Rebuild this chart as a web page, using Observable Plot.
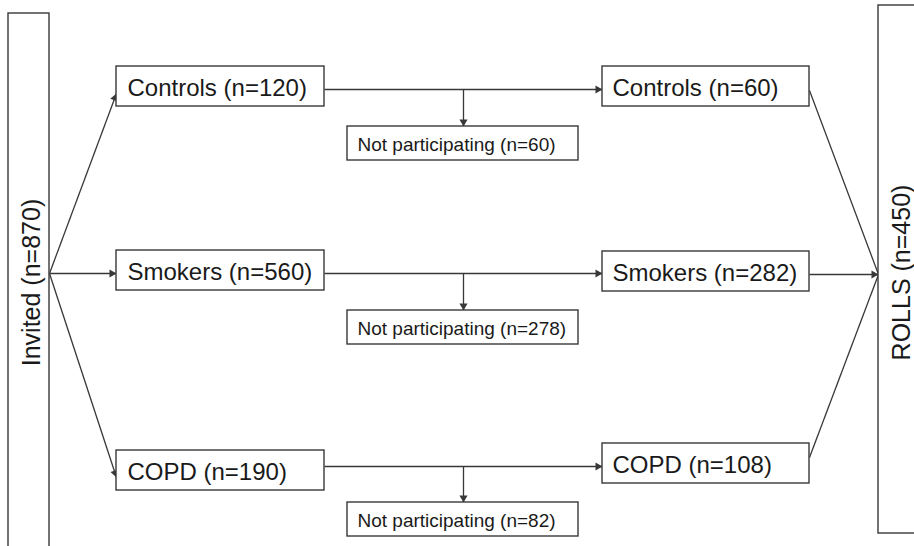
<!DOCTYPE html>
<html><head><meta charset="utf-8">
<script src="https://cdn.jsdelivr.net/npm/d3@7"></script>
<script src="https://cdn.jsdelivr.net/npm/@observablehq/plot@0.6"></script>
<style>body{margin:0;background:#fff;}#chart svg{display:block;}</style>
</head><body><div id="chart"></div>
<script>
// ---- data ----
const groups = ["Controls", "Smokers", "COPD"];
const invitedCounts = [120, 560, 190];
const participantCounts = [60, 282, 108];
const notParticipatingCounts = [60, 278, 82];
const invitedTotal = 870;
const rollsTotal = 450;

// ---- layout (pixel space) ----
const W = 914, H = 546;
const L = {
  invited: {x1: 8, x2: 49, y1: 13, y2: 600, cx: 31, cy: 282, hub: [49, 273]},
  rolls: {x1: 878, x2: 960, y1: 5, y2: 533, cx: 901, cy: 272, hub: [878, 274]},
  left: {x1: 116, x2: 324, y1: [66, 250, 450], h: 40, tipY: [93, 273, 477]},
  right: {x1: 602, x2: 809, y1: [66, 251, 443], h: 40, outY: [90, 274, 457]},
  flowY: [89, 273, 466],
  np: {x1: 347, x2: 578, y1: [126, 310, 502], h: 34, branchX: 463}
};
const INK = "#383838", TEXT = "#1a1a1a", FONT = "Liberation Sans, Arial, sans-serif";

// ---- boxes ----
const boxes = [
  {x1: L.invited.x1, x2: L.invited.x2, y1: L.invited.y1, y2: L.invited.y2},
  {x1: L.rolls.x1, x2: L.rolls.x2, y1: L.rolls.y1, y2: L.rolls.y2}
];
const hLabels = [], npLabels = [];
groups.forEach((g, i) => {
  boxes.push({x1: L.left.x1, x2: L.left.x2, y1: L.left.y1[i], y2: L.left.y1[i] + L.left.h});
  boxes.push({x1: L.right.x1, x2: L.right.x2, y1: L.right.y1[i], y2: L.right.y1[i] + L.right.h});
  boxes.push({x1: L.np.x1, x2: L.np.x2, y1: L.np.y1[i], y2: L.np.y1[i] + L.np.h});
  hLabels.push({x: L.left.x1 + 11, y: L.left.y1[i] + L.left.h / 2 + 1.5, t: `${g} (n=${invitedCounts[i]})`});
  hLabels.push({x: L.right.x1 + 10, y: L.right.y1[i] + L.right.h / 2 + 1.5, t: `${g} (n=${participantCounts[i]})`});
  npLabels.push({x: L.np.x1 + 10, y: L.np.y1[i] + L.np.h / 2 + 1.5, t: `Not participating (n=${notParticipatingCounts[i]})`});
});
const vLabels = [
  {x: L.invited.cx, y: L.invited.cy, t: `Invited (n=${invitedTotal})`},
  {x: L.rolls.cx, y: L.rolls.cy, t: `ROLLS (n=${rollsTotal})`}
];

// ---- connectors ----
const links = [];
groups.forEach((g, i) => {
  links.push({x1: L.invited.hub[0], y1: L.invited.hub[1], x2: L.left.x1, y2: L.left.tipY[i], head: true});
  links.push({x1: L.left.x2, y1: L.flowY[i], x2: L.right.x1, y2: L.flowY[i], head: true});
  links.push({x1: L.np.branchX, y1: L.flowY[i], x2: L.np.branchX, y2: L.np.y1[i], head: true});
  links.push({x1: L.right.x2, y1: L.right.outY[i], x2: L.rolls.hub[0], y2: L.rolls.hub[1], head: i === 1});
});
const R = 3;
const tipOffset = 2 * Math.sqrt((R * R * Math.PI) / (3 * Math.sqrt(3)));
const heads = links.filter(d => d.head).map(d => {
  const dx = d.x2 - d.x1, dy = d.y2 - d.y1, len = Math.hypot(dx, dy);
  return {x: d.x2 - dx / len * tipOffset, y: d.y2 - dy / len * tipOffset, a: Math.atan2(dx, -dy) * 180 / Math.PI};
});

const chart = Plot.plot({
  width: W, height: H,
  margin: 0,
  x: {domain: [0, W], range: [0, W], axis: null},
  y: {domain: [0, H], range: [0, H], axis: null},
  style: {background: "#fff", fontFamily: FONT},
  marks: [
    Plot.link(links, {x1: "x1", y1: "y1", x2: "x2", y2: "y2", stroke: INK, strokeWidth: 1.3}),
    Plot.dot(heads, {x: "x", y: "y", rotate: "a", symbol: "triangle", r: R, fill: INK, stroke: null}),
    Plot.rect(boxes, {x1: "x1", x2: "x2", y1: "y1", y2: "y2", fill: "white", stroke: INK, strokeWidth: 1.4}),
    Plot.text(hLabels, {x: "x", y: "y", text: "t", textAnchor: "start", fontSize: 24, fill: TEXT, fontFamily: FONT}),
    Plot.text(npLabels, {x: "x", y: "y", text: "t", textAnchor: "start", fontSize: 19, fill: TEXT, fontFamily: FONT}),
    Plot.text(vLabels, {x: "x", y: "y", text: "t", rotate: -90, fontSize: 25, fill: TEXT, fontFamily: FONT})
  ]
});
document.getElementById("chart").appendChild(chart);
</script>
</body></html>
